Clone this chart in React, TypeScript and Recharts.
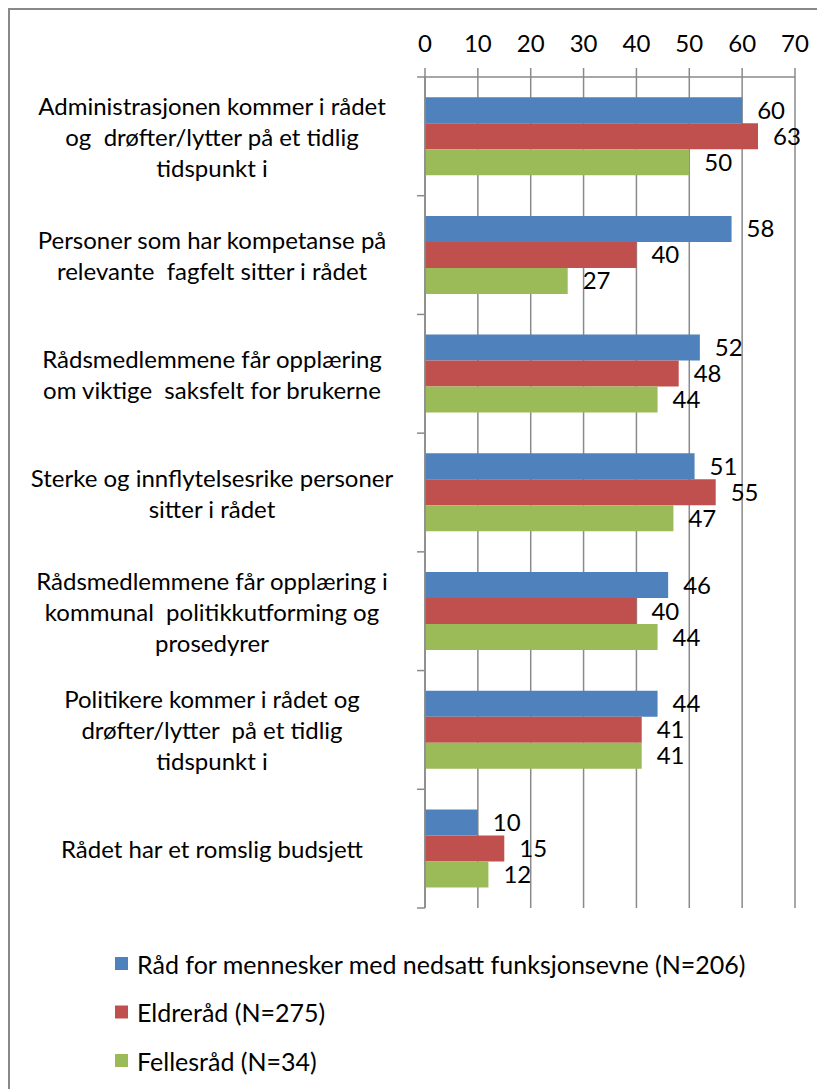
import { Bar, BarChart, CartesianGrid, LabelList, XAxis, YAxis } from "recharts";

const categories = [
  ["Administrasjonen kommer i rådet", "og  drøfter/lytter på et tidlig", "tidspunkt i"],
  ["Personer som har kompetanse på", "relevante  fagfelt sitter i rådet"],
  ["Rådsmedlemmene får opplæring", "om viktige  saksfelt for brukerne"],
  ["Sterke og innflytelsesrike personer", "sitter i rådet"],
  ["Rådsmedlemmene får opplæring i", "kommunal  politikkutforming og", "prosedyrer"],
  ["Politikere kommer i rådet og", "drøfter/lytter  på et tidlig", "tidspunkt i"],
  ["Rådet har et romslig budsjett"],
];

const funksjon = [60, 58, 52, 51, 46, 44, 10];
const eldre = [63, 40, 48, 55, 40, 41, 15];
const felles = [50, 27, 44, 47, 44, 41, 12];

const xTicks = [0, 10, 20, 30, 40, 50, 60, 70];

const series = [
  { key: "funksjon", name: "Råd for mennesker med nedsatt funksjonsevne (N=206)", color: "#4F81BD" },
  { key: "eldre", name: "Eldreråd (N=275)", color: "#C0504D" },
  { key: "felles", name: "Fellesråd (N=34)", color: "#9BBB59" },
];

const rows = categories.map((lines, i) => ({
  name: lines.join(" "),
  lines,
  funksjon: funksjon[i],
  eldre: eldre[i],
  felles: felles[i],
}));

const FONT = "Lato, 'Open Sans', sans-serif";
const FS = 24;
const GRID = "#8a8a8a";
const W = 815;
const H = 900;
const TOP = 67;
const BOTTOM = 2;
const AXIS_W = 415;
const band = (H - TOP - BOTTOM) / rows.length;

function CategoryTick(props: any) {
  const { y, index, payload } = props;
  const lines: string[] = rows[index]?.lines ?? [String(payload.value)];
  const n = lines.length;
  return (
    <g>
      {lines.map((l, i) => (
        <text
          key={i}
          x={202}
          y={y + (i - (n - 1) / 2) * 31}
          textAnchor="middle"
          dominantBaseline="central"
          fontSize={FS}
          fontFamily={FONT}
          fill="#000"
          xmlSpace="preserve"
          style={{ whiteSpace: "pre" }}
        >
          {l}
        </text>
      ))}
      <line x1={AXIS_W - 8} x2={AXIS_W} y1={y - band / 2} y2={y - band / 2} stroke={GRID} strokeWidth={1.5} />
      {index === rows.length - 1 && (
        <line x1={AXIS_W - 8} x2={AXIS_W} y1={y + band / 2} y2={y + band / 2} stroke={GRID} strokeWidth={1.5} />
      )}
    </g>
  );
}

function LegendBlock() {
  return (
    <svg width={760} height={150} style={{ position: "absolute", left: 0, top: 935 }}>
      {series.map((s, i) => (
        <g key={s.key}>
          <rect x={105} y={12 + i * 48.5} width={13} height={13} fill={s.color} />
          <text
            x={127}
            y={18.5 + i * 48.5}
            dominantBaseline="central"
            fontSize={FS + 1}
            fontFamily={FONT}
            fill="#000"
          >
            {s.name}
          </text>
        </g>
      ))}
    </svg>
  );
}

export default function App() {
  return (
    <div
      style={{
        position: "relative",
        width: 817,
        height: 1081,
        borderTop: "2px solid #898989",
        borderLeft: "2px solid #898989",
        boxSizing: "border-box",
        background: "#fff",
      }}
    >
      <BarChart
        width={W}
        height={H}
        data={rows}
        layout="vertical"
        margin={{ top: 0, right: 30, bottom: BOTTOM, left: 0 }}
        barGap={0}
        barCategoryGap="17%"
      >
        <CartesianGrid horizontal={false} stroke={GRID} strokeWidth={1.5} />
        <XAxis
          type="number"
          orientation="top"
          domain={[0, 70]}
          ticks={xTicks}
          interval={0}
          height={TOP}
          tickSize={9}
          tickMargin={16}
          axisLine={{ stroke: GRID, strokeWidth: 1.5 }}
          tickLine={{ stroke: GRID, strokeWidth: 1.5 }}
          tick={{ fontSize: FS, fill: "#000", fontFamily: FONT }}
        />
        <YAxis
          type="category"
          dataKey="name"
          width={AXIS_W}
          tickLine={false}
          axisLine={{ stroke: GRID, strokeWidth: 1.5 }}
          tick={<CategoryTick />}
          interval={0}
        />
        {series.map((s) => (
          <Bar key={s.key} dataKey={s.key} name={s.name} fill={s.color} isAnimationActive={false}>
            <LabelList
              dataKey={s.key}
              position="right"
              offset={15}
              fontSize={FS}
              fontFamily={FONT}
              fill="#000"
            />
          </Bar>
        ))}
      </BarChart>
      <LegendBlock />
    </div>
  );
}
